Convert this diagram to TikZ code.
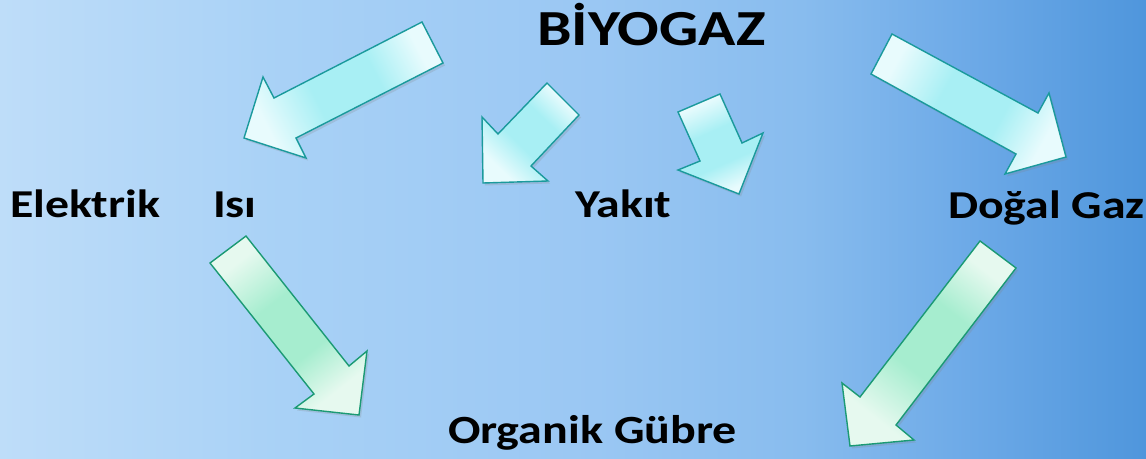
\documentclass[tikz,border=0pt]{standalone}
\usepackage{fontspec}
\setmainfont{Carlito}
\usetikzlibrary{shadows}
\definecolor{bgA}{HTML}{BEDDF9}
\definecolor{bgB}{HTML}{A8D1F6}
\definecolor{bgC}{HTML}{9AC7F3}
\definecolor{bgD}{HTML}{88BCEE}
\definecolor{bgE}{HTML}{6CA9E7}
\definecolor{bgF}{HTML}{4F96DC}
\definecolor{cyanMid}{HTML}{A8EFF4}
\definecolor{cyanEnd}{HTML}{E8FBFD}
\definecolor{cyanLine}{HTML}{1A9A9C}
\definecolor{greenMid}{HTML}{A6EDCF}
\definecolor{greenEnd}{HTML}{E6F9EF}
\definecolor{greenLine}{HTML}{1B9A74}
\pgfdeclarehorizontalshading{bgshade}{100bp}{color(0bp)=(bgA); color(25bp)=(bgA); color(37.5bp)=(bgB); color(51bp)=(bgC); color(60bp)=(bgD); color(67.5bp)=(bgE); color(75bp)=(bgF); color(100bp)=(bgF)}
\pgfdeclareverticalshading{cyanband}{100bp}{color(0bp)=(cyanEnd); color(26bp)=(cyanEnd); color(40bp)=(cyanMid); color(58bp)=(cyanMid); color(74bp)=(cyanEnd); color(100bp)=(cyanEnd)}
\pgfdeclareverticalshading{greenband}{100bp}{color(0bp)=(greenEnd); color(26bp)=(greenEnd); color(40bp)=(greenMid); color(58bp)=(greenMid); color(74bp)=(greenEnd); color(100bp)=(greenEnd)}
\tikzset{
  cyanarrow/.style={draw=cyanLine, line width=1.4pt, line join=miter,
    shade, shading=cyanband, shading angle=#1,
    drop shadow={opacity=0.22, shadow xshift=2pt, shadow yshift=-2.5pt}},
  greenarrow/.style={draw=greenLine, line width=1.4pt, line join=miter,
    shade, shading=greenband, shading angle=#1,
    drop shadow={opacity=0.22, shadow xshift=2pt, shadow yshift=-2.5pt}},
  lbl/.style={inner sep=0pt, outer sep=0pt, anchor=base west, font=\bfseries}
}
\begin{document}
\begin{tikzpicture}[x=1pt, y=-1pt]
\useasboundingbox (0,0) rectangle (1146,458);
\shade[shading=bgshade] (0,0) rectangle (1146,458);

% arrows
\path[cyanarrow=117] (422,22) -- (274,98) -- (263,77) -- (244,138) -- (306,158) -- (296,138) -- (443,63) -- cycle;
\path[cyanarrow=136] (547,83) -- (498,134) -- (482,117) -- (483,183) -- (548,181) -- (531,166) -- (579,115) -- cycle;
\path[cyanarrow=24] (678,112) -- (700,161) -- (678,170) -- (739,194) -- (763,133) -- (742,143) -- (720,94) -- cycle;
\path[cyanarrow=61] (892,34) -- (871,74) -- (1016,154) -- (1005,174) -- (1066,157) -- (1049,93) -- (1038,113) -- cycle;
\path[greenarrow=38] (210,263) -- (314,394) -- (295,408) -- (359,415) -- (367,351) -- (349,366) -- (246,236) -- cycle;
\path[greenarrow=142] (980,241) -- (860,397) -- (842,383) -- (850,446) -- (914,440) -- (896,425) -- (1016,268) -- cycle;

% labels
\node[lbl] (bio) at (537,45) {\fontsize{50.5}{50}\selectfont\scalebox{1.22}[1]{BİYOGAZ}};
\node[lbl] (elk) at (10,217) {\fontsize{39.5}{40}\selectfont\scalebox{1.21}[1]{Elektrik}};
\node[lbl] (isi) at (213,217) {\fontsize{39.5}{40}\selectfont\scalebox{1.21}[1]{Isı}};
\node[lbl] (yak) at (575,217) {\fontsize{39.5}{40}\selectfont\scalebox{1.21}[1]{Yakıt}};
\node[lbl] (dog) at (948,218) {\fontsize{39.5}{40}\selectfont\scalebox{1.21}[1]{Doğal Gaz}};
\node[lbl] (org) at (448,443) {\fontsize{40}{40}\selectfont\scalebox{1.2}[1]{Organik Gübre}};
\end{tikzpicture}
\end{document}
